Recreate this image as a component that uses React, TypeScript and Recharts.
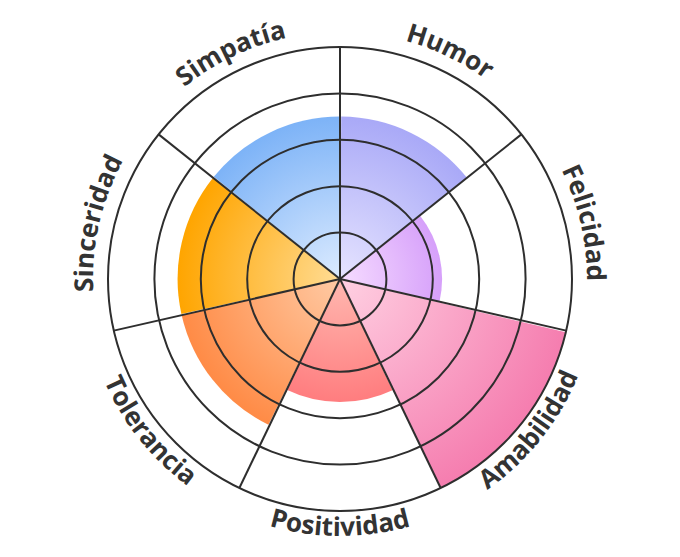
import { RadialBarChart, RadialBar, PolarGrid, PolarAngleAxis, PolarRadiusAxis, Cell } from 'recharts';

const categories = ['Humor', 'Felicidad', 'Amabilidad', 'Positividad', 'Tolerancia', 'Sinceridad', 'Simpatía'];
const values = [3.5, 2.2, 5, 2.65, 3.5, 3.5, 3.5];
const outerColors = ['#a9a9f7', '#d6a0fa', '#f57daf', '#ff7d7f', '#ff8b46', '#ffa500', '#7db3f7'];
const innerColors = ['#e6e4ff', '#f6dcff', '#ffd0e2', '#ffb8b0', '#ffcaa4', '#ffdc94', '#dcebff'];
const radiusTicks = [0, 1, 2, 3, 4, 5];

const W = 680;
const H = 557;
const CX = 340;
const CY = 279;
const OUTER = 232;
const MAX = 5;
const STEP = 360 / categories.length;

const data = categories.map((name, i) => ({ name, value: values[i] }));

const pt = (r: number, a: number) => {
    const rad = (a * Math.PI) / 180;
    return [CX + r * Math.cos(rad), CY - r * Math.sin(rad)];
};

function CurvedTick(props: any) {
    const { index, payload } = props;
    const mid = 90 - (index + 0.5) * STEP;
    const top = Math.sin((mid * Math.PI) / 180) > 0;
    const span = 60;
    let d: string;
    if (top) {
        const r = 247;
        const [x1, y1] = pt(r, mid + span);
        const [x2, y2] = pt(r, mid - span);
        d = `M ${x1} ${y1} A ${r} ${r} 0 0 1 ${x2} ${y2}`;
    } else {
        const r = 257;
        const [x1, y1] = pt(r, mid - span);
        const [x2, y2] = pt(r, mid + span);
        d = `M ${x1} ${y1} A ${r} ${r} 0 0 0 ${x2} ${y2}`;
    }
    const id = `lbl-${index}`;
    return (
        <g>
            <defs>
                <path id={id} d={d} />
            </defs>
            <text fontFamily="'Open Sans', sans-serif" fontWeight={700} fontSize={26} fill="#333">
                <textPath href={`#${id}`} startOffset="50%" textAnchor="middle">
                    {payload.value}
                </textPath>
            </text>
        </g>
    );
}

// shared polar setup so the grid overlay lines up with the bars
const polarProps = {
    width: W,
    height: H,
    data,
    layout: 'centric' as const,
    cx: CX,
    cy: CY,
    innerRadius: 0,
    outerRadius: OUTER,
    // band scale puts each bar one band ahead, so rotate back by one step
    startAngle: 90 - STEP,
    endAngle: -270 - STEP,
    barCategoryGap: 0,
    margin: { top: 0, right: 0, bottom: 0, left: 0 },
};

export default function App() {
    const spokes = categories.map((_, i) => 90 - i * STEP);

    return (
        <div style={{ position: 'absolute', left: 0, top: 0, width: W, height: H, background: '#fff' }}>
            <div style={{ position: 'absolute', left: 0, top: 0 }}>
                <RadialBarChart {...polarProps}>
                    <defs>
                        {categories.map((_, i) => (
                            <radialGradient
                                key={i}
                                id={`g${i}`}
                                gradientUnits="userSpaceOnUse"
                                cx={CX}
                                cy={CY}
                                r={(OUTER * values[i]) / MAX}
                            >
                                <stop offset="0%" stopColor={innerColors[i]} />
                                <stop offset="100%" stopColor={outerColors[i]} />
                            </radialGradient>
                        ))}
                    </defs>
                    <PolarAngleAxis type="category" dataKey="name" axisLine={false} tickLine={false} tick={CurvedTick} />
                    <PolarRadiusAxis type="number" domain={[0, MAX]} ticks={radiusTicks} tick={false} axisLine={false} />
                    <RadialBar dataKey="value" stroke="none" isAnimationActive={false}>
                        {data.map((_, i) => (
                            <Cell key={i} fill={`url(#g${i})`} stroke="none" />
                        ))}
                    </RadialBar>
                </RadialBarChart>
            </div>
            <div style={{ position: 'absolute', left: 0, top: 0, pointerEvents: 'none' }}>
                <RadialBarChart {...polarProps}>
                    <PolarAngleAxis type="category" dataKey="name" axisLine={false} tickLine={false} tick={false} />
                    <PolarRadiusAxis type="number" domain={[0, MAX]} ticks={radiusTicks} tick={false} axisLine={false} />
                    <RadialBar dataKey="value" fill="none" stroke="none" isAnimationActive={false} />
                    <PolarGrid gridType="circle" polarAngles={spokes} stroke="#2e2e2e" strokeWidth={2} strokeOpacity={1} />
                </RadialBarChart>
            </div>
        </div>
    );
}
